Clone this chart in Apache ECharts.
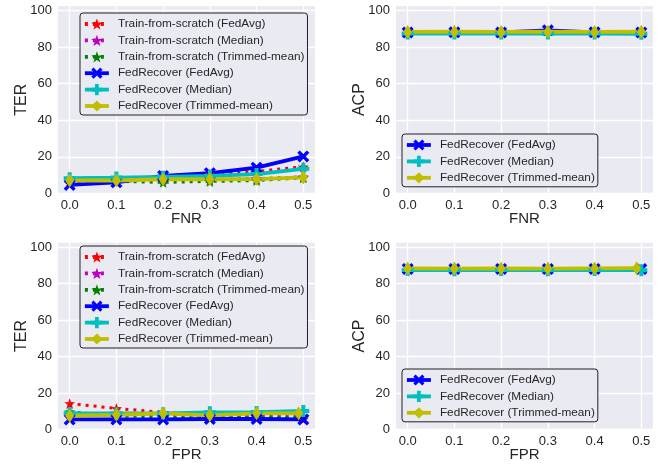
<!DOCTYPE html>
<html>
<head>
<meta charset="utf-8">
<script src="https://cdn.jsdelivr.net/npm/echarts@6/dist/echarts.min.js"></script>
<style>
  html, body { margin: 0; padding: 0; background: #ffffff; }
  #chart { width: 665px; height: 464px; }
</style>
</head>
<body>
<div id="chart"></div>
<script>
// Rates on the x axis
const rates = [0.0, 0.1, 0.2, 0.3, 0.4, 0.5];
const fprTrimmedRates = [0.0, 0.1, 0.2, 0.3, 0.4, 0.49];
const xTickValues = [0, 0.1, 0.2, 0.3, 0.4, 0.5];
const yTickValues = [0, 20, 40, 60, 80, 100];

// TER vs FNR
const terFnrScratchFedAvg = [5.5, 7.0, 8.5, 10.5, 12.0, 14.5];
const terFnrScratchMedian = [6.5, 7.0, 7.5, 7.5, 8.0, 9.0];
const terFnrScratchTrimmed = [6.5, 6.5, 6.0, 6.5, 7.0, 8.5];
const terFnrRecoverFedAvg = [4.6, 6.0, 9.5, 11.0, 14.0, 20.2];
const terFnrRecoverMedian = [8.3, 8.6, 9.0, 9.5, 10.5, 13.4];
const terFnrRecoverTrimmed = [7.0, 7.0, 7.7, 7.7, 7.8, 8.7];

// ACP vs FNR
const acpFnrRecoverFedAvg = [88.0, 88.1, 88.0, 89.2, 88.1, 88.0];
const acpFnrRecoverMedian = [87.4, 87.5, 87.4, 87.5, 87.4, 87.3];
const acpFnrRecoverTrimmed = [88.3, 88.4, 88.3, 88.4, 88.3, 88.4];

// TER vs FPR
const terFprScratchFedAvg = [14.2, 11.5, 9.4, 7.5, 6.5, 5.5];
const terFprScratchMedian = [8.5, 8.0, 8.0, 7.5, 7.5, 7.0];
const terFprScratchTrimmed = [9.7, 7.3, 7.0, 7.0, 7.0, 6.5];
const terFprRecoverFedAvg = [5.5, 5.5, 5.5, 5.7, 5.7, 5.5];
const terFprRecoverMedian = [8.8, 8.8, 8.8, 9.4, 9.5, 10.1];
const terFprRecoverTrimmed = [7.5, 8.0, 8.8, 7.7, 8.8, 8.8];

// ACP vs FPR
const acpFprRecoverFedAvg = [88.1, 88.0, 88.1, 88.0, 88.1, 88.0];
const acpFprRecoverMedian = [87.5, 87.4, 87.5, 87.4, 87.5, 87.4];
const acpFprRecoverTrimmed = [88.4, 88.3, 88.4, 88.3, 88.4, 88.5];

const NAMES = {
  sFedAvg: 'Train-from-scratch (FedAvg)',
  sMedian: 'Train-from-scratch (Median)',
  sTrimmed: 'Train-from-scratch (Trimmed-mean)',
  rFedAvg: 'FedRecover (FedAvg)',
  rMedian: 'FedRecover (Median)',
  rTrimmed: 'FedRecover (Trimmed-mean)'
};

const FONT = "'Liberation Sans', Arial, sans-serif";
const TEXT = '#262626';

const STAR = 'path://M0,-10 L2.35,-3.24 9.51,-3.09 3.8,1.24 5.88,8.09 0,4.3 -5.88,8.09 -3.8,1.24 -9.51,-3.09 -2.35,-3.24Z';
const XMARK = 'path://M-3,-1.8 L-1.8,-3 0,-1.2 1.8,-3 3,-1.8 1.2,0 3,1.8 1.8,3 0,1.2 -1.8,3 -3,1.8 -1.2,0Z';
const PLUS = 'path://M-1,-3 L1,-3 1,-1 3,-1 3,1 1,1 1,3 -1,3 -1,1 -3,1 -3,-1 -1,-1Z';

const STYLES = {
  sFedAvg: { color: '#FF0000', symbol: STAR, size: 11, width: 3, dash: [3, 5] },
  sMedian: { color: '#BF00BF', symbol: STAR, size: 11, width: 3, dash: [3, 5] },
  sTrimmed: { color: '#008000', symbol: STAR, size: 11, width: 3, dash: [3, 5] },
  rFedAvg: { color: '#0000FF', symbol: XMARK, size: 12, width: 3.8, dash: 'solid' },
  rMedian: { color: '#00BFBF', symbol: PLUS, size: 12, width: 3.8, dash: 'solid' },
  rTrimmed: { color: '#BFBF00', symbol: 'diamond', size: [9, 14], width: 3.8, dash: 'solid' }
};

function pairs(xs, ys) {
  return xs.map((x, i) => [x, ys[i]]);
}

function line(key, xs, ys, gridIndex) {
  const s = STYLES[key];
  return {
    type: 'line',
    name: NAMES[key],
    xAxisIndex: gridIndex,
    yAxisIndex: gridIndex,
    data: pairs(xs, ys),
    symbol: s.symbol,
    symbolSize: s.size,
    showAllSymbol: true,
    animation: false,
    itemStyle: { color: s.color, borderWidth: 0 },
    lineStyle: { color: s.color, width: s.width, type: s.dash, cap: 'butt' },
    emphasis: { disabled: true }
  };
}

const grids = [
  { left: 58, top: 6, width: 257, height: 187.3 },
  { left: 396, top: 6, width: 257, height: 187.3 },
  { left: 58, top: 242.7, width: 257, height: 186.7 },
  { left: 396, top: 242.7, width: 257, height: 186.7 }
].map(g => Object.assign({ show: true, backgroundColor: '#EAEAF2', borderWidth: 0 }, g));

const xNames = ['FNR', 'FNR', 'FPR', 'FPR'];
const yNames = ['TER', 'ACP', 'TER', 'ACP'];

const xAxes = xNames.map((name, i) => ({
  type: 'value',
  gridIndex: i,
  min: -0.025,
  max: 0.525,
  name: name,
  nameLocation: 'middle',
  nameGap: 18,
  nameMoveOverlap: false,
  nameTextStyle: { fontFamily: FONT, fontSize: 15, color: TEXT },
  axisLine: { show: false },
  axisTick: { show: false, customValues: xTickValues },
  axisLabel: {
    customValues: xTickValues,
    formatter: v => v.toFixed(1),
    fontFamily: FONT, fontSize: 13, color: TEXT, margin: 6
  },
  splitLine: { show: true, lineStyle: { color: '#ffffff', width: 1.3 } }
}));

const yAxes = yNames.map((name, i) => ({
  type: 'value',
  gridIndex: i,
  min: 0,
  max: 102.5,
  name: name,
  nameLocation: 'middle',
  nameGap: 28,
  nameMoveOverlap: false,
  nameTextStyle: { fontFamily: FONT, fontSize: 16, color: TEXT },
  axisLine: { show: false },
  axisTick: { show: false, customValues: yTickValues },
  axisLabel: {
    customValues: yTickValues,
    fontFamily: FONT, fontSize: 13, color: TEXT, margin: 6
  },
  splitLine: { show: true, lineStyle: { color: '#ffffff', width: 1.3 } }
}));

const series = [
  line('sFedAvg', rates, terFnrScratchFedAvg, 0),
  line('sMedian', rates, terFnrScratchMedian, 0),
  line('sTrimmed', rates, terFnrScratchTrimmed, 0),
  line('rFedAvg', rates, terFnrRecoverFedAvg, 0),
  line('rMedian', rates, terFnrRecoverMedian, 0),
  line('rTrimmed', rates, terFnrRecoverTrimmed, 0),

  line('rFedAvg', rates, acpFnrRecoverFedAvg, 1),
  line('rMedian', rates, acpFnrRecoverMedian, 1),
  line('rTrimmed', rates, acpFnrRecoverTrimmed, 1),

  line('sFedAvg', rates, terFprScratchFedAvg, 2),
  line('sMedian', rates, terFprScratchMedian, 2),
  line('sTrimmed', rates, terFprScratchTrimmed, 2),
  line('rFedAvg', rates, terFprRecoverFedAvg, 2),
  line('rMedian', rates, terFprRecoverMedian, 2),
  line('rTrimmed', fprTrimmedRates, terFprRecoverTrimmed, 2),

  line('rFedAvg', rates, acpFprRecoverFedAvg, 3),
  line('rMedian', rates, acpFprRecoverMedian, 3),
  line('rTrimmed', fprTrimmedRates, acpFprRecoverTrimmed, 3)
];

const allNames = ['sFedAvg', 'sMedian', 'sTrimmed', 'rFedAvg', 'rMedian', 'rTrimmed'].map(k => NAMES[k]);
const recoverNames = ['rFedAvg', 'rMedian', 'rTrimmed'].map(k => NAMES[k]);

function legend(data, left, top) {
  return {
    data: data,
    left: left,
    top: top,
    orient: 'vertical',
    itemWidth: 24,
    itemHeight: 14,
    itemGap: 4.4,
    padding: [5, 3, 3, 3],
    backgroundColor: '#EAEAF2',
    borderColor: '#222222',
    borderWidth: 1,
    borderRadius: 3,
    selectedMode: false,
    lineStyle: { width: 3.8 },
    textStyle: { fontFamily: FONT, fontSize: 11.8, color: TEXT, padding: [0, 0, 0, 4] }
  };
}

const chart = echarts.init(document.getElementById('chart'), null, { renderer: 'canvas' });
chart.setOption({
  animation: false,
  backgroundColor: '#ffffff',
  grid: grids,
  xAxis: xAxes,
  yAxis: yAxes,
  legend: [
    legend(allNames, 80, 13),
    legend(recoverNames, 402, 134),
    legend(allNames, 80, 246),
    legend(recoverNames, 402, 369)
  ],
  series: series
});
</script>
</body>
</html>
